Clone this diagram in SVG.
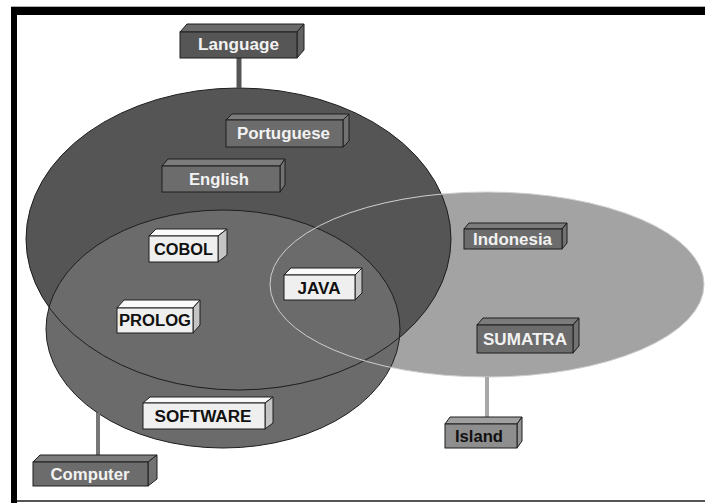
<svg xmlns="http://www.w3.org/2000/svg" width="705" height="503" viewBox="0 0 705 503">
<style>
text{font-family:"Liberation Sans",Arial,sans-serif;font-weight:bold;font-size:16px;text-anchor:middle}
.dk .f{fill:#565656}.dk .t{fill:#6a6a6a}.dk .s{fill:#626262}.dk text{fill:#f2f2f2}
.md .f{fill:#6c6c6c}.md .t{fill:#7c7c7c}.md .s{fill:#727272}.md text{fill:#f2f2f2}
.lt .f{fill:#efefef}.lt .t{fill:#fafafa}.lt .s{fill:#c4c4c4}.lt text{fill:#111}
.gr .f{fill:#8e8e8e}.gr .t{fill:#a0a0a0}.gr .s{fill:#949494}.gr text{fill:#111}
.f,.t,.s{stroke:#1e1e1e;stroke-width:1}
</style>
<rect width="705" height="503" fill="#fff"/>
<!-- frame -->
<rect x="11" y="6" width="694" height="1" fill="#b0b0b0"/>
<rect x="11" y="7" width="694" height="8" fill="#000"/>
<rect x="11" y="7" width="6" height="496" fill="#000"/>
<line x1="17" y1="501" x2="705" y2="501" stroke="#555" stroke-width="2"/>
<g id="regions">
<ellipse cx="487" cy="284.5" rx="217" ry="92.5" fill="#a3a3a3"/>
<ellipse cx="238.5" cy="239" rx="212.5" ry="151" fill="#555"/>
<ellipse cx="223" cy="329" rx="177" ry="119" fill="#6b6b6b"/>
<ellipse cx="238.5" cy="239" rx="212.5" ry="151" fill="none" stroke="#1e1e1e" stroke-width="1"/>
<ellipse cx="223" cy="329" rx="177" ry="119" fill="none" stroke="#1e1e1e" stroke-width="1"/>
<ellipse cx="487" cy="284.5" rx="217" ry="92.5" fill="none" stroke="#cfcfcf" stroke-width="1"/>
</g>
<g id="connectors">
<line x1="239" y1="58" x2="239" y2="88" stroke="#555" stroke-width="5"/>
<line x1="98" y1="413" x2="98" y2="455" stroke="#777" stroke-width="4"/>
<line x1="487" y1="377" x2="487" y2="418" stroke="#a8a8a8" stroke-width="4"/>
</g>
<g id="Language" class="dk">
<polygon class="t" points="180,32 187,24 304,24 297,32"/>
<polygon class="s" points="297,32 304,24 304,50 297,58"/>
<rect class="f" x="180" y="32" width="117" height="26"/>
<text x="238.5" y="50" textLength="81" lengthAdjust="spacingAndGlyphs">Language</text>
</g>
<g id="Portuguese" class="md">
<polygon class="t" points="226,120 232,114 349,114 343,120"/>
<polygon class="s" points="343,120 349,114 349,141 343,147"/>
<rect class="f" x="226" y="120" width="117" height="27"/>
<text x="283.5" y="139" textLength="93" lengthAdjust="spacingAndGlyphs">Portuguese</text>
</g>
<g id="English" class="md">
<polygon class="t" points="162,166 168,159 285,159 280,166"/>
<polygon class="s" points="280,166 285,159 285,185 280,192"/>
<rect class="f" x="162" y="166" width="118" height="26"/>
<text x="219" y="185" textLength="60" lengthAdjust="spacingAndGlyphs">English</text>
</g>
<g id="COBOL" class="lt">
<polygon class="t" points="149,236 156,229 227,229 218,236"/>
<polygon class="s" points="218,236 227,229 227,255 218,262"/>
<rect class="f" x="149" y="236" width="69" height="26"/>
<text x="183.5" y="255" textLength="59" lengthAdjust="spacingAndGlyphs">COBOL</text>
</g>
<g id="JAVA" class="lt">
<polygon class="t" points="284,275 291,268 362,268 355,275"/>
<polygon class="s" points="355,275 362,268 362,293 355,300"/>
<rect class="f" x="284" y="275" width="71" height="25"/>
<text x="319" y="294" textLength="43" lengthAdjust="spacingAndGlyphs">JAVA</text>
</g>
<g id="PROLOG" class="lt">
<polygon class="t" points="117,308 124,300 200,300 193,308"/>
<polygon class="s" points="193,308 200,300 200,325 193,333"/>
<rect class="f" x="117" y="308" width="76" height="25"/>
<text x="155" y="326" textLength="72" lengthAdjust="spacingAndGlyphs">PROLOG</text>
</g>
<g id="SOFTWARE" class="lt">
<polygon class="t" points="143,403 150,397 273,397 265,403"/>
<polygon class="s" points="265,403 273,397 273,423 265,429"/>
<rect class="f" x="143" y="403" width="122" height="26"/>
<text x="203" y="422" textLength="97" lengthAdjust="spacingAndGlyphs">SOFTWARE</text>
</g>
<g id="Computer" class="md">
<polygon class="t" points="33,462 40,455 157,455 148,462"/>
<polygon class="s" points="148,462 157,455 157,479 148,486"/>
<rect class="f" x="33" y="462" width="115" height="24"/>
<text x="90" y="480" textLength="79" lengthAdjust="spacingAndGlyphs">Computer</text>
</g>
<g id="Indonesia" class="md">
<polygon class="t" points="464,229 469,223 567,223 562,229"/>
<polygon class="s" points="562,229 567,223 567,243 562,249"/>
<rect class="f" x="464" y="229" width="98" height="20"/>
<text x="512.5" y="245" textLength="79" lengthAdjust="spacingAndGlyphs">Indonesia</text>
</g>
<g id="SUMATRA" class="md">
<polygon class="t" points="477,325 483,318 579,318 573,325"/>
<polygon class="s" points="573,325 579,318 579,346 573,353"/>
<rect class="f" x="477" y="325" width="96" height="28"/>
<text x="525" y="345" textLength="84" lengthAdjust="spacingAndGlyphs">SUMATRA</text>
</g>
<g id="Island" class="gr">
<polygon class="t" points="445,424 450,417 522,417 517,424"/>
<polygon class="s" points="517,424 522,417 522,441 517,448"/>
<rect class="f" x="445" y="424" width="72" height="24"/>
<text x="479" y="442" textLength="48" lengthAdjust="spacingAndGlyphs">Island</text>
</g>
</svg>
